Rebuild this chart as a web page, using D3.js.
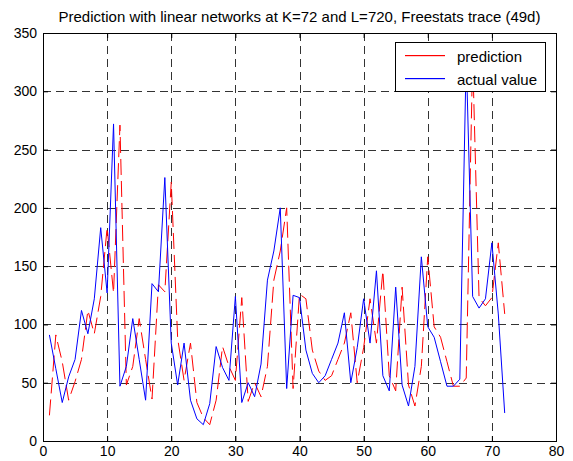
<!DOCTYPE html>
<html>
<head>
<meta charset="utf-8">
<script src="https://cdnjs.cloudflare.com/ajax/libs/d3/7.8.5/d3.min.js"></script>
<style>
    body { margin: 0; background: white; }
    text { font-family: "Liberation Sans", Arial, sans-serif; }
</style>
</head>
<body>
<script>

var titleText = 'Prediction with linear networks at K=72 and L=720, Freestats trace (49d)';
var xTicks = [0, 10, 20, 30, 40, 50, 60, 70, 80];
var yTicks = [0, 50, 100, 150, 200, 250, 300, 350];
var seriesNames = ['prediction', 'actual value'];
var seriesColors = ['#ff0000', '#0000ff'];

// time steps 1..72
var steps = d3.range(1, 73);

var actual = [91, 62, 33, 55, 70, 112, 92, 122, 183, 127,
    272, 47, 64, 105, 70, 35, 135, 128, 226, 84,
    48, 84, 35, 19, 14, 32, 81, 63, 52, 124,
    33, 50, 38, 66, 138, 163, 200, 45, 125, 123,
    78, 58, 50, 56, 70, 84, 110, 50, 80, 122,
    84, 146, 56, 43, 132, 48, 30, 64, 158, 98,
    89, 68, 47, 47, 53, 330, 124, 114, 122, 170,
    109, 24];

var prediction = [22, 91, 68, 35, 51, 70, 112, 92, 124, 183,
    127, 271, 48, 64, 105, 70, 36, 134, 128, 222,
    88, 52, 84, 33, 20, 14, 35, 81, 64, 52,
    123, 34, 50, 38, 64, 138, 163, 200, 45, 126,
    122, 78, 60, 52, 56, 70, 84, 110, 50, 80,
    122, 84, 146, 56, 43, 132, 48, 30, 64, 158,
    98, 89, 68, 47, 47, 54, 330, 123, 116, 123,
    170, 109];

var width = 573, height = 461;
var plotLeft = 43, plotRight = 556, plotTop = 33, plotBottom = 441;

var svg = d3.select('body').append('svg')
    .attr('width', width)
    .attr('height', height);

var x = d3.scaleLinear().domain([0, 80]).range([plotLeft, plotRight]);
var y = d3.scaleLinear().domain([0, 350]).range([plotBottom, plotTop]);

// dashed grid
var grid = svg.append('g');
xTicks.slice(1, -1).forEach(function(d) {
    grid.append('line')
        .attr('x1', Math.round(x(d)) + 0.5).attr('x2', Math.round(x(d)) + 0.5)
        .attr('y1', plotTop).attr('y2', plotBottom)
        .style('stroke', '#333')
        .style('stroke-width', 1)
        .style('stroke-dasharray', '8,5');
});
yTicks.slice(1, -1).forEach(function(d) {
    grid.append('line')
        .attr('x1', plotLeft).attr('x2', plotRight)
        .attr('y1', Math.round(y(d)) + 0.5).attr('y2', Math.round(y(d)) + 0.5)
        .style('stroke', '#333')
        .style('stroke-width', 1)
        .style('stroke-dasharray', '8,5');
});

svg.append('clipPath').attr('id', 'plotclip')
    .append('rect')
    .attr('x', plotLeft).attr('y', plotTop)
    .attr('width', plotRight - plotLeft).attr('height', plotBottom - plotTop);

var line = d3.line()
    .x(function(d) { return x(d[0]); })
    .y(function(d) { return y(d[1]); });

var plot = svg.append('g').attr('clip-path', 'url(#plotclip)');

plot.append('path')
    .datum(steps.map(function(t, i) { return [t, prediction[i]]; }))
    .attr('d', line)
    .style('fill', 'none')
    .style('stroke', seriesColors[0])
    .style('stroke-width', 1)
    .style('stroke-dasharray', '16,6');

plot.append('path')
    .datum(steps.map(function(t, i) { return [t, actual[i]]; }))
    .attr('d', line)
    .style('fill', 'none')
    .style('stroke', seriesColors[1])
    .style('stroke-width', 1);

// axes, ticks inside on all four sides
svg.append('g')
    .attr('transform', 'translate(0,' + plotBottom + ')')
    .call(d3.axisBottom(x).tickValues(xTicks).tickSizeInner(-5).tickSizeOuter(0).tickPadding(5));
svg.append('g')
    .attr('transform', 'translate(' + plotLeft + ',0)')
    .call(d3.axisLeft(y).tickValues(yTicks).tickSizeInner(-5).tickSizeOuter(0).tickPadding(6));
svg.append('g')
    .attr('transform', 'translate(0,' + plotTop + ')')
    .call(d3.axisTop(x).tickValues(xTicks).tickSizeInner(-5).tickSizeOuter(0).tickFormat(''));
svg.append('g')
    .attr('transform', 'translate(' + plotRight + ',0)')
    .call(d3.axisRight(y).tickValues(yTicks).tickSizeInner(-5).tickSizeOuter(0).tickFormat(''));

svg.selectAll('.domain').style('stroke', 'black');
svg.selectAll('.tick line').style('stroke', 'black');
svg.selectAll('.tick text')
    .style('font-family', '"Liberation Sans", Arial, sans-serif')
    .style('font-size', '14px')
    .style('fill', 'black');

svg.append('rect')
    .attr('x', plotLeft + 0.5)
    .attr('y', plotTop + 0.5)
    .attr('width', plotRight - plotLeft)
    .attr('height', plotBottom - plotTop)
    .style('fill', 'none')
    .style('stroke', 'black')
    .style('stroke-width', 1);

svg.append('text')
    .attr('x', (plotLeft + plotRight) / 2)
    .attr('y', 22)
    .text(titleText)
    .attr('text-anchor', 'middle')
    .style('font-size', '15px');

// legend
var legend = svg.append('g');
legend.append('rect')
    .attr('x', 395.5)
    .attr('y', 42.5)
    .attr('width', 150)
    .attr('height', 49)
    .style('fill', 'white')
    .style('stroke', 'black')
    .style('stroke-width', 1);

seriesNames.forEach(function(name, i) {
    legend.append('rect')
        .attr('x', 405)
        .attr('y', 55 + i * 23)
        .attr('width', 40)
        .attr('height', 1.2)
        .style('fill', seriesColors[i]);
    legend.append('text')
        .attr('x', 457)
        .attr('y', 62 + i * 23)
        .text(name)
        .attr('text-anchor', 'start')
        .style('font-size', '15px');
});

</script>
</body>
</html>
